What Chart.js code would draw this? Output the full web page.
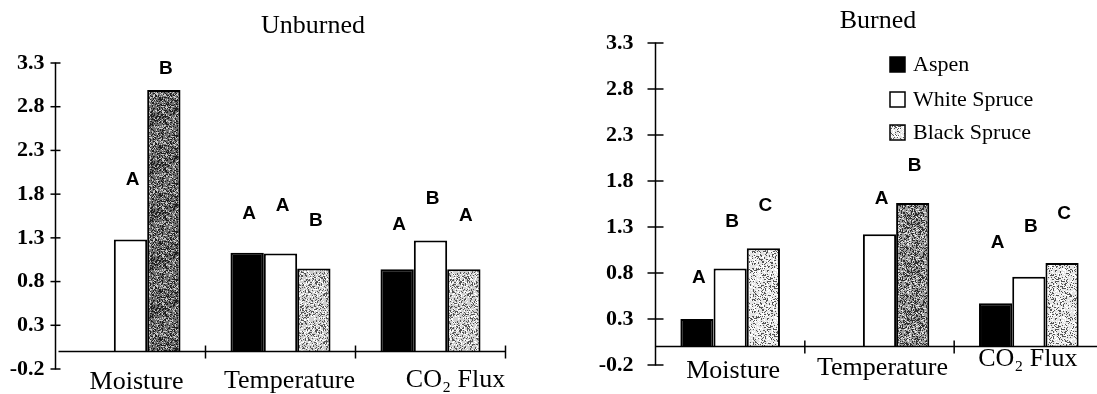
<!DOCTYPE html>
<html>
<head>
<meta charset="utf-8">
<script src="https://cdn.jsdelivr.net/npm/chart.js@4.4.1/dist/chart.umd.min.js"></script>
<style>
html, body { margin: 0; padding: 0; background: #fff; overflow: hidden; width: 1097px; height: 394px; }
#left { position: absolute; left: 0; top: 0; }
#right { position: absolute; left: 548px; top: 0; }
</style>
</head>
<body>
<canvas id="left" width="548" height="394"></canvas>
<canvas id="right" width="560" height="394"></canvas>
<script>
const categories = ['Moisture', 'Temperature', 'CO₂ Flux'];
const seriesNames = ['Aspen', 'White Spruce', 'Black Spruce'];
const yTicks = [-0.2, 0.3, 0.8, 1.3, 1.8, 2.3, 2.8, 3.3];

// Unburned
const unburnedAspen = [null, 1.13, 0.94];
const unburnedWhite = [1.28, 1.12, 1.27];
const unburnedBlack = [2.99, 0.95, 0.94];
const unburnedAspenLetters = [null, 'A', 'A'];
const unburnedWhiteLetters = ['A', 'A', 'B'];
const unburnedBlackLetters = ['B', 'B', 'A'];
const unburnedAspenLetterY = [null, 1.58, 1.45];
const unburnedWhiteLetterY = [1.96, 1.67, 1.75];
const unburnedBlackLetterY = [3.23, 1.49, 1.55];

// Burned
const burnedAspen = [0.30, null, 0.47];
const burnedWhite = [0.85, 1.22, 0.76];
const burnedBlack = [1.07, 1.56, 0.91];
const burnedAspenLetters = ['A', null, 'A'];
const burnedWhiteLetters = ['B', 'A', 'B'];
const burnedBlackLetters = ['C', 'B', 'C'];
const burnedAspenLetterY = [0.75, null, 1.13];
const burnedWhiteLetterY = [1.36, 1.61, 1.30];
const burnedBlackLetterY = [1.53, 1.97, 1.44];

const SERIF = "'Liberation Serif', 'Times New Roman', serif";

function stipple(canvasId, base, dots, seed) {
    const c = document.createElement('canvas');
    c.width = c.height = 48;
    const g = c.getContext('2d');
    g.fillStyle = base;
    g.fillRect(0, 0, 48, 48);
    for (let yy = 0; yy < 48; yy++) {
        for (let xx = 0; xx < 48; xx++) {
            let h = Math.imul((xx * 73856093) ^ (yy * 19349663) ^ (seed * 83492791), 2654435761);
            h = Math.imul(h ^ (h >>> 15), 2246822519);
            let r = ((h ^ (h >>> 13)) >>> 0) % 1000 / 1000;
            for (const [col, p] of dots) {
                if (r < p) { g.fillStyle = col; g.fillRect(xx, yy, 1, 1); break; }
                r -= p;
            }
        }
    }
    return document.getElementById(canvasId).getContext('2d').createPattern(c, 'repeat');
}

const leftDark = stipple('left', '#6e6e6e', [['#1e1e1e', 0.32], ['#c8c8c8', 0.2]], 1);
const leftLight = stipple('left', '#d0d0d0', [['#555', 0.25], ['#fff', 0.2]], 2);
const rightLight = stipple('right', '#e4e4e4', [['#555', 0.2], ['#fff', 0.25]], 3);
const rightMid = stipple('right', '#9e9e9e', [['#2e2e2e', 0.35], ['#e8e8e8', 0.15]], 4);

const axesPlugin = {
    id: 'axes',
    afterDatasetsDraw(chart, args, opts) {
        const ctx = chart.ctx;
        const x = chart.scales.x, y = chart.scales.y;
        const a = chart.chartArea;
        ctx.save();
        ctx.strokeStyle = '#000';
        ctx.lineWidth = 1.5;

        ctx.beginPath();
        ctx.moveTo(a.left, y.getPixelForValue(y.max) - 0.5);
        ctx.lineTo(a.left, y.getPixelForValue(y.min) + 0.5);
        ctx.stroke();
        y.ticks.forEach(t => {
            const py = y.getPixelForValue(t.value);
            ctx.beginPath();
            ctx.moveTo(a.left - opts.tick, py);
            ctx.lineTo(a.left + opts.tick, py);
            ctx.stroke();
        });

        const y0 = y.getPixelForValue(0);
        ctx.beginPath();
        ctx.moveTo(a.left + opts.xStart, y0);
        ctx.lineTo(opts.xEnd || a.right, y0);
        ctx.stroke();
        const step = (a.right - a.left) / x.ticks.length;
        opts.seps.forEach(i => {
            const px = a.left + i * step;
            ctx.beginPath();
            ctx.moveTo(px, y0 - 6);
            ctx.lineTo(px, y0 + 7);
            ctx.stroke();
        });

        // category names under the axis
        ctx.fillStyle = '#000';
        ctx.textAlign = 'center';
        ctx.textBaseline = 'alphabetic';
        ctx.font = '26px ' + SERIF;
        chart.data.labels.forEach((lab, i) => {
            ctx.fillText(lab, x.getPixelForValue(i) + opts.labelDx[i], opts.labelY[i]);
        });

        // title
        ctx.fillText(opts.title, opts.titleX, opts.titleY);

        // significance letters
        ctx.font = "bold 19px 'Liberation Sans', Arial, sans-serif";
        ctx.textBaseline = 'middle';
        chart.data.datasets.forEach((ds, di) => {
            const meta = chart.getDatasetMeta(di);
            ds.letters.forEach((L, i) => {
                if (!L) return;
                ctx.fillText(L, meta.data[i].x + 2, y.getPixelForValue(ds.letterY[i]));
            });
        });

        if (opts.legend) {
            ctx.textAlign = 'left';
            ctx.font = '22px ' + SERIF;
            chart.data.datasets.forEach((ds, di) => {
                const ly = opts.legend.y[di];
                const fill = Array.isArray(ds.backgroundColor) ? ds.backgroundColor[0] : ds.backgroundColor;
                ctx.fillStyle = fill;
                ctx.fillRect(opts.legend.x, ly - 7, 15, 15);
                ctx.lineWidth = 1.5;
                ctx.strokeRect(opts.legend.x, ly - 7, 15, 15);
                ctx.fillStyle = '#000';
                ctx.fillText(ds.label, opts.legend.x + 23, ly + 1);
            });
        }
        ctx.restore();
    }
};

function makeChart(id, sets, cfg) {
    const datasets = sets.map((s, i) => ({
        label: seriesNames[i],
        data: s.data,
        letters: s.letters,
        letterY: s.letterY,
        backgroundColor: s.fill,
        borderColor: '#000',
        borderWidth: 2,
        barPercentage: 1.0,
        categoryPercentage: 0.667,
    }));
    return new Chart(document.getElementById(id), {
        type: 'bar',
        data: { labels: categories, datasets },
        plugins: [axesPlugin],
        options: {
            responsive: false,
            animation: false,
            layout: { padding: cfg.padding },
            plugins: {
                legend: { display: false },
                tooltip: { enabled: false },
                axes: cfg.axes,
            },
            scales: {
                x: {
                    grid: { display: false, drawTicks: false },
                    border: { display: false },
                    ticks: { display: false },
                    afterFit: s => { s.height = cfg.xHeight; },
                },
                y: {
                    min: yTicks[0],
                    max: yTicks[yTicks.length - 1],
                    grid: { display: false, drawTicks: false },
                    border: { display: false },
                    ticks: {
                        stepSize: yTicks[1] - yTicks[0],
                        color: '#000',
                        font: { family: SERIF, size: 22, weight: 'bold' },
                        padding: cfg.yPad,
                        callback: v => v.toFixed(1),
                    },
                    afterFit: s => {
                        s.width = cfg.yWidth;
                        s.paddingTop = 0;
                        s.paddingBottom = 0;
                    },
                },
            },
        },
    });
}

makeChart('left', [
    { data: unburnedAspen, letters: unburnedAspenLetters, letterY: unburnedAspenLetterY, fill: '#000' },
    { data: unburnedWhite, letters: unburnedWhiteLetters, letterY: unburnedWhiteLetterY, fill: '#fff' },
    { data: unburnedBlack, letters: unburnedBlackLetters, letterY: unburnedBlackLetterY, fill: [leftDark, leftLight, leftLight] },
], {
    padding: { left: 0.5, right: 42.5, top: 63, bottom: 0 },
    yWidth: 55, xHeight: 25, yPad: 11,
    axes: { tick: 5, xStart: 3, seps: [1, 2, 3], title: 'Unburned', titleX: 313, titleY: 33,
            labelDx: [6, 9, 25], labelY: [389, 388, 387] },
});

makeChart('right', [
    { data: burnedAspen, letters: burnedAspenLetters, letterY: burnedAspenLetterY, fill: '#000' },
    { data: burnedWhite, letters: burnedWhiteLetters, letterY: burnedWhiteLetterY, fill: '#fff' },
    { data: burnedBlack, letters: burnedBlackLetters, letterY: burnedBlackLetterY, fill: [rightLight, rightMid, rightLight] },
], {
    padding: { left: 0.5, right: 4.5, top: 43, bottom: 0 },
    yWidth: 107, xHeight: 29, yPad: 22,
    axes: { tick: 8, xStart: 0, xEnd: 560, seps: [1, 2], title: 'Burned', titleX: 330, titleY: 28,
            labelDx: [3, 3, -1], labelY: [378, 375, 366],
            legend: { x: 342, y: [64, 99, 132] } },
});
</script>
</body>
</html>
